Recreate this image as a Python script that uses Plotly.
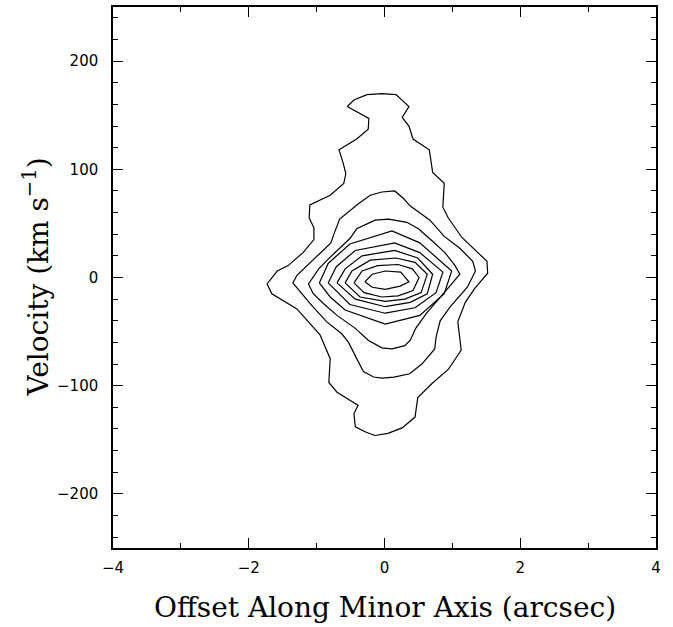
import plotly.graph_objects as go

# Contour levels (outermost -> innermost), offset in arcsec, velocity in km/s
C1_X = [-0.55, -0.45, -0.26, -0.04, 0.17, 0.36, 0.26, 0.36, 0.42, 0.66, 0.71, 0.88, 0.86, 0.94, 1.14, 1.51, 1.52,
        1.33, 1.19, 1.08, 1.13, 0.94, 0.70, 0.49, 0.45, 0.26, 0.05, -0.14, -0.27, -0.43, -0.45, -0.39, -0.70,
        -0.82, -0.80, -0.95, -1.29, -1.66, -1.73, -1.58, -1.42, -1.20, -1.04, -1.04, -1.11, -1.10, -0.80, -0.60,
        -0.57, -0.61, -0.67, -0.41, -0.24, -0.23]
C1_Y = [158, 164, 169, 170, 169, 158, 148, 140, 128, 118, 97, 87, 65, 55, 37, 15, 4,
        -10, -23, -41, -67, -85, -98, -111, -129, -139, -144, -146, -143, -138, -126, -118, -106,
        -97, -75, -53, -29, -15, -6, 6, 11, 23, 35, 46, 55, 67, 76, 87,
        96, 106, 118, 128, 137, 147]

C2_X = [-0.04, 0.15, 0.28, 0.38, 0.67, 0.88, 1.11, 1.30, 1.34, 1.22, 0.97, 0.82, 0.76, 0.74, 0.55, 0.37, 0.14,
        -0.04, -0.16, -0.31, -0.41, -0.53, -0.63, -0.85, -1.07, -1.35, -1.29, -1.14, -0.99, -0.79, -0.74, -0.66,
        -0.39, -0.21]
C2_Y = [79, 80, 73, 66, 53, 38, 27, 15, 6, -9, -27, -40, -55, -66, -80, -89, -92,
        -93, -92, -87, -75, -60, -52, -41, -26, -5, 2, 11, 20, 32, 41, 54,
        68, 76]

C3_X = [-0.14, 0.06, 0.33, 0.50, 0.70, 0.89, 1.04, 1.11, 0.99, 0.80, 0.62, 0.46, 0.38, 0.30, 0.11, -0.04,
        -0.24, -0.43, -0.70, -0.90, -1.05, -1.12, -0.97, -0.83, -0.66, -0.51, -0.41, -0.21]
C3_Y = [53, 54, 51, 45, 34, 23, 11, 3, -6, -20, -33, -47, -58, -63, -66, -65,
        -58, -47, -35, -24, -15, -6, 8, 17, 27, 36, 45, 51]

C4_X = [-0.96, -0.83, -0.51, 0.11, 0.52, 0.99, 0.88, 0.52, 0.01, -0.58, -0.80]
C4_Y = [-5, 13, 31, 43, 32, 6, -15, -35, -43, -30, -18]

C5_X = [-0.83, -0.71, -0.43, 0.15, 0.52, 0.86, 0.76, 0.45, 0.01, -0.51]
C5_Y = [-5, 10, 25, 32, 23, 5, -14, -28, -33, -25]

C6_X = [-0.70, -0.58, -0.33, 0.15, 0.49, 0.71, 0.63, 0.38, 0.01, -0.43]
C6_Y = [-5, 8, 20, 25, 18, 3, -15, -23, -27, -20]

C7_X = [-0.58, -0.48, -0.21, 0.17, 0.45, 0.63, 0.54, 0.30, 0.01, -0.36]
C7_Y = [-5, 6, 16, 18, 14, 3, -14, -20, -22, -18]

C8_X = [-0.45, -0.33, -0.10, 0.20, 0.41, 0.51, 0.42, 0.20, -0.04, -0.30]
C8_Y = [-5, 6, 11, 12, 8, 0, -12, -17, -18, -14]

C9_X = [-0.29, -0.18, 0.01, 0.24, 0.36, 0.23, 0.01, -0.18]
C9_Y = [-4, 3, 6, 5, -4, -8, -11, -9]

CONTOURS = [(C1_X, C1_Y), (C2_X, C2_Y), (C3_X, C3_Y), (C4_X, C4_Y), (C5_X, C5_Y),
            (C6_X, C6_Y), (C7_X, C7_Y), (C8_X, C8_Y), (C9_X, C9_Y)]

X_TICKS = [-4, -2, 0, 2, 4]
Y_TICKS = [-200, -100, 0, 100, 200]

fig = go.Figure()
for cx, cy in CONTOURS:
    fig.add_trace(go.Scatter(x=list(cx) + [cx[0]], y=list(cy) + [cy[0]], mode="lines",
                             line=dict(color="black", width=1.2), hoverinfo="skip", showlegend=False))

axis_common = dict(showline=True, linecolor="black", linewidth=1.5, mirror="allticks",
                   ticks="inside", ticklen=10, tickwidth=1.2, tickcolor="black",
                   showgrid=False, zeroline=False,
                   tickfont=dict(family="DejaVu Sans", size=15, color="black"))

fig.update_xaxes(range=[-4, 4], tickvals=X_TICKS, ticktext=[f"{v}".replace("-", "\u2212") for v in X_TICKS],
                 minor=dict(dtick=1, tick0=0, ticklen=5, tickwidth=1.2, tickcolor="black", ticks="inside", showgrid=False),
                 ticklabelstandoff=5, **axis_common)
fig.update_yaxes(range=[-250, 250], tickvals=Y_TICKS, ticktext=[f"{v}".replace("-", "\u2212") for v in Y_TICKS],
                 minor=dict(dtick=20, tick0=0, ticklen=5, tickwidth=1.2, tickcolor="black", ticks="inside", showgrid=False),
                 ticklabelstandoff=10, **axis_common)

title_font = dict(family="DejaVu Serif", size=28, color="black")
fig.add_annotation(text="Offset Along Minor Axis (arcsec)", xref="paper", yref="paper", x=0.5, y=0,
                   xanchor="center", yanchor="middle", yshift=-59, showarrow=False, font=title_font)
fig.add_annotation(text="Velocity (km s<sup>\u22121</sup>)", xref="paper", yref="paper", x=0, y=0.5,
                   xanchor="center", yanchor="middle", xshift=-76, textangle=-90, showarrow=False, font=title_font)

fig.update_layout(width=673, height=627, margin=dict(l=113, r=17, t=5, b=79),
                  plot_bgcolor="white", paper_bgcolor="white")

fig.write_html("out.html")
